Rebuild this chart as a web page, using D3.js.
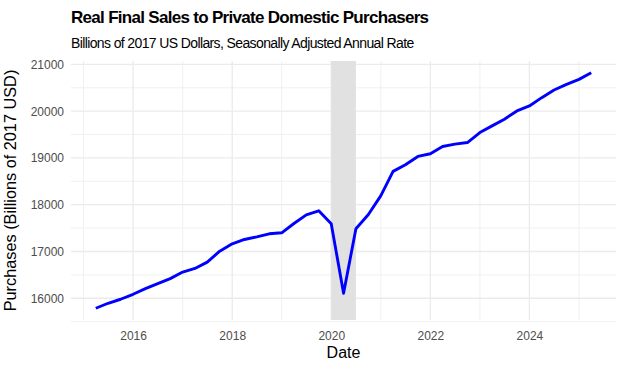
<!DOCTYPE html>
<html>
<head>
<meta charset="utf-8">
<script src="https://cdn.jsdelivr.net/npm/d3@7"></script>
<style>
  body { margin: 0; background: #fff; }
  text { font-family: "Liberation Sans", Arial, sans-serif; }
</style>
</head>
<body>
<svg id="chart" width="624" height="369"></svg>
<script>
// quarterly data, 2015Q2 - 2025Q2
const quarters = [
  "2015-04-01", "2015-07-01", "2015-10-01",
  "2016-01-01", "2016-04-01", "2016-07-01", "2016-10-01",
  "2017-01-01", "2017-04-01", "2017-07-01", "2017-10-01",
  "2018-01-01", "2018-04-01", "2018-07-01", "2018-10-01",
  "2019-01-01", "2019-04-01", "2019-07-01", "2019-10-01",
  "2020-01-01", "2020-04-01", "2020-07-01", "2020-10-01",
  "2021-01-01", "2021-04-01", "2021-07-01", "2021-10-01",
  "2022-01-01", "2022-04-01", "2022-07-01", "2022-10-01",
  "2023-01-01", "2023-04-01", "2023-07-01", "2023-10-01",
  "2024-01-01", "2024-04-01", "2024-07-01", "2024-10-01",
  "2025-01-01", "2025-04-01"
];
const purchases = [
  15787, 15893, 15979,
  16085, 16206, 16313, 16420,
  16560, 16638, 16773, 17007,
  17165, 17257, 17314, 17378,
  17400, 17598, 17783, 17870,
  17595, 16107, 17485, 17790,
  18194, 18713, 18855, 19032,
  19090, 19245, 19296, 19330,
  19543, 19686, 19828, 20005,
  20112, 20289, 20452, 20574,
  20680, 20821
];
const recession = ["2020-01-01", "2020-07-01"];
const yTicks = [16000, 17000, 18000, 19000, 20000, 21000];
const xTickYears = [2016, 2018, 2020, 2022, 2024];

const parse = d3.timeParse("%Y-%m-%d");
const data = quarters.map((q, i) => ({ date: parse(q), value: purchases[i] }));

const svg = d3.select("#chart");
const pL = 71, pR = 616, pT = 61, pB = 320;

// ggplot風の5%拡張
const xExt = d3.extent(data, d => +d.date);
const xPad = (xExt[1] - xExt[0]) * 0.05;
const x = d3.scaleTime()
  .domain([new Date(xExt[0] - xPad), new Date(xExt[1] + xPad)])
  .range([pL, pR]);

const yExt = d3.extent(purchases);
const yPad = (yExt[1] - yExt[0]) * 0.05;
const y = d3.scaleLinear()
  .domain([yExt[0] - yPad, yExt[1] + yPad])
  .range([pB, pT]);

const grid = svg.append("g");

// 補助グリッド
const xMinor = [2015, 2017, 2019, 2021, 2023, 2025].map(yr => new Date(yr, 0, 1));
grid.selectAll(".xminor").data(xMinor).enter().append("line")
  .attr("x1", d => x(d)).attr("x2", d => x(d))
  .attr("y1", pT).attr("y2", pB)
  .attr("stroke", "#f0f0f0").attr("stroke-width", 1);
const yMinor = [15500, 16500, 17500, 18500, 19500, 20500];
grid.selectAll(".yminor").data(yMinor).enter().append("line")
  .attr("x1", pL).attr("x2", pR)
  .attr("y1", d => y(d)).attr("y2", d => y(d))
  .attr("stroke", "#f0f0f0").attr("stroke-width", 1);

// 主グリッド
const xMajor = xTickYears.map(yr => new Date(yr, 0, 1));
grid.selectAll(".xmajor").data(xMajor).enter().append("line")
  .attr("x1", d => x(d)).attr("x2", d => x(d))
  .attr("y1", pT).attr("y2", pB)
  .attr("stroke", "#ebebeb").attr("stroke-width", 1.3);
grid.selectAll(".ymajor").data(yTicks).enter().append("line")
  .attr("x1", pL).attr("x2", pR)
  .attr("y1", d => y(d)).attr("y2", d => y(d))
  .attr("stroke", "#ebebeb").attr("stroke-width", 1.3);

// 景気後退期
svg.append("rect")
  .attr("x", x(parse(recession[0])))
  .attr("width", x(parse(recession[1])) - x(parse(recession[0])))
  .attr("y", pT)
  .attr("height", pB - pT)
  .attr("fill", "#e1e1e1");

// 線
const line = d3.line().x(d => x(d.date)).y(d => y(d.value));
svg.append("path")
  .datum(data)
  .attr("d", line)
  .attr("fill", "none")
  .attr("stroke", "#0000ff")
  .attr("stroke-width", 2.9)
  .attr("stroke-linejoin", "round");

// 軸
const xAxis = svg.append("g")
  .attr("transform", `translate(0, ${pB})`)
  .call(d3.axisBottom(x).tickValues(xMajor).tickFormat(d3.timeFormat("%Y")).tickSize(0).tickPadding(11));
const yAxis = svg.append("g")
  .attr("transform", `translate(${pL}, 0)`)
  .call(d3.axisLeft(y).tickValues(yTicks).tickFormat(d3.format("d")).tickSize(0).tickPadding(7));
[xAxis, yAxis].forEach(a => {
  a.select(".domain").remove();
  a.selectAll("text").attr("font-size", 12).attr("fill", "#4d4d4d")
    .attr("font-family", "Liberation Sans, Arial, sans-serif");
});

// タイトル
svg.append("text")
  .attr("x", 71).attr("y", 23)
  .attr("font-size", 17).attr("font-weight", "bold")
  .attr("letter-spacing", -0.7)
  .text("Real Final Sales to Private Domestic Purchasers");
svg.append("text")
  .attr("x", 71).attr("y", 48)
  .attr("font-size", 14)
  .attr("letter-spacing", -0.62)
  .text("Billions of 2017 US Dollars, Seasonally Adjusted Annual Rate");

// 軸タイトル
svg.append("text")
  .attr("x", (pL + pR) / 2).attr("y", 358)
  .attr("text-anchor", "middle")
  .attr("font-size", 16)
  .text("Date");
svg.append("text")
  .attr("transform", `translate(15.5, ${(pT + pB) / 2}) rotate(-90)`)
  .attr("text-anchor", "middle")
  .attr("font-size", 16.3)
  .text("Purchases (Billions of 2017 USD)");
</script>
</body>
</html>
